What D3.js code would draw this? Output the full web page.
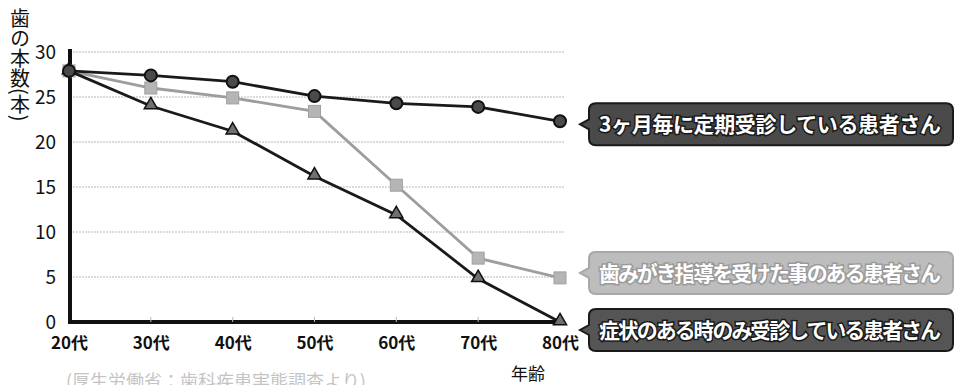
<!DOCTYPE html>
<html>
<head>
<meta charset="utf-8">
<script src="https://cdn.jsdelivr.net/npm/d3@7"></script>
<style>
  body { margin: 0; background: #fff; }
  svg { display: block; font-family: "Noto Sans CJK JP", "Noto Sans", sans-serif; }
</style>
</head>
<body>
<svg id="drawing_region"></svg>
<script>
// data
var ages = ["20代", "30代", "40代", "50代", "60代", "70代", "80代"];
var regular = [27.9, 27.4, 26.7, 25.1, 24.3, 23.9, 22.3];   // 3ヶ月毎に定期受診
var brushing = [27.9, 26.0, 24.9, 23.4, 15.2, 7.1, 4.9];    // 歯みがき指導
var symptom = [27.9, 24.0, 21.2, 16.2, 11.9, 4.8, 0];       // 症状のある時のみ
var yTicks = [0, 5, 10, 15, 20, 25, 30];
var seriesNames = [
    "3ヶ月毎に定期受診している患者さん",
    "歯みがき指導を受けた事のある患者さん",
    "症状のある時のみ受診している患者さん"
];

var width = 958, height = 385;

var svg = d3.select('#drawing_region')
    .attr('width', width)
    .attr('height', height);

var xscale = d3.scalePoint()
    .domain(ages)
    .range([69, 560]);

var yscale = d3.scaleLinear()
    .domain([0, 30])
    .range([322, 52]);

// grid lines
svg.append('g')
    .selectAll('line')
    .data(yTicks.filter(d => d > 0))
    .join('line')
    .attr('x1', 70)
    .attr('x2', 564)
    .attr('y1', d => yscale(d))
    .attr('y2', d => yscale(d))
    .attr('stroke', '#cfcfcf')
    .attr('stroke-width', 1.5)
    .attr('stroke-dasharray', '2,1');

// y axis
var yaxis = d3.axisLeft(yscale)
    .tickValues(yTicks)
    .tickSize(0)
    .tickPadding(14);

var yg = svg.append('g')
    .attr('transform', 'translate(70,0)')
    .call(yaxis);
yg.select('.domain').remove();
yg.selectAll('text')
    .attr('font-size', 19)
    .attr('fill', '#111')
    .attr('font-family', '"Noto Sans CJK JP", sans-serif');

// x axis
var xaxis = d3.axisBottom(xscale)
    .tickSize(0)
    .tickPadding(15);

var xg = svg.append('g')
    .attr('transform', 'translate(0,322)')
    .call(xaxis);
xg.select('.domain').remove();
xg.selectAll('text')
    .attr('font-size', 17)
    .attr('font-weight', 'bold')
    .attr('fill', '#111')
    .attr('font-family', '"Noto Sans CJK JP", sans-serif');

// axis lines
svg.append('line')
    .attr('x1', 70).attr('x2', 70)
    .attr('y1', 49).attr('y2', 324)
    .attr('stroke', '#111').attr('stroke-width', 4);
svg.append('line')
    .attr('x1', 68).attr('x2', 562)
    .attr('y1', 322).attr('y2', 322)
    .attr('stroke', '#111').attr('stroke-width', 4);

// small tick marks on x axis
svg.append('g')
    .selectAll('line')
    .data(ages.slice(1, 6))
    .join('line')
    .attr('x1', d => xscale(d)).attr('x2', d => xscale(d))
    .attr('y1', 317).attr('y2', 322)
    .attr('stroke', '#bbb').attr('stroke-width', 1);

// lines
var line = d3.line()
    .x((d, i) => xscale(ages[i]))
    .y(d => yscale(d));

var series = [
    { values: brushing, color: '#9d9d9d', marker: 'square' },
    { values: symptom, color: '#1a1a1a', marker: 'triangle' },
    { values: regular, color: '#1a1a1a', marker: 'circle' }
];

series.forEach(s => {
    svg.append('path')
        .datum(s.values)
        .attr('d', line)
        .attr('fill', 'none')
        .attr('stroke', s.color)
        .attr('stroke-width', 2.8);

    var g = svg.append('g');
    if (s.marker === 'circle') {
        g.selectAll('circle')
            .data(s.values)
            .join('circle')
            .attr('cx', (d, i) => xscale(ages[i]))
            .attr('cy', d => yscale(d))
            .attr('r', 6)
            .attr('fill', '#4a4a4a')
            .attr('stroke', '#111')
            .attr('stroke-width', 2);
    } else if (s.marker === 'square') {
        g.selectAll('rect')
            .data(s.values)
            .join('rect')
            .attr('x', (d, i) => xscale(ages[i]) - 6)
            .attr('y', d => yscale(d) - 6)
            .attr('width', 12)
            .attr('height', 12)
            .attr('fill', '#b5b5b5')
            .attr('stroke', '#a0a0a0')
            .attr('stroke-width', 1);
    } else {
        var tri = d3.symbol().type(d3.symbolTriangle).size(75);
        g.selectAll('path')
            .data(s.values)
            .join('path')
            .attr('d', tri)
            .attr('transform', (d, i) => `translate(${xscale(ages[i])},${yscale(d) - 1})`)
            .attr('fill', '#707070')
            .attr('stroke', '#111')
            .attr('stroke-width', 1.5);
    }
});

// callouts
var callouts = [
    { name: seriesNames[0], last: regular[6], dy: 3, fill: '#4a4a4a', stroke: '#1a1a1a', textStroke: '#1a1a1a' },
    { name: seriesNames[1], last: brushing[6], dy: -5, fill: '#bdbdbd', stroke: '#a8a8a8', textStroke: '#9a9a9a' },
    { name: seriesNames[2], last: symptom[6], dy: 8, fill: '#555', stroke: '#1a1a1a', textStroke: '#1a1a1a' }
];

var bx = 589, bw = 364, bh = 42, rr = 7;

callouts.forEach(c => {
    var cy = yscale(c.last) + c.dy;
    var top = cy - bh / 2, bot = cy + bh / 2;
    var p = d3.path();
    p.moveTo(bx + rr, top);
    p.lineTo(bx + bw - rr, top);
    p.quadraticCurveTo(bx + bw, top, bx + bw, top + rr);
    p.lineTo(bx + bw, bot - rr);
    p.quadraticCurveTo(bx + bw, bot, bx + bw - rr, bot);
    p.lineTo(bx + rr, bot);
    p.quadraticCurveTo(bx, bot, bx, bot - rr);
    p.lineTo(bx, cy + 5);
    p.lineTo(bx - 9, cy);
    p.lineTo(bx, cy - 5);
    p.lineTo(bx, top + rr);
    p.quadraticCurveTo(bx, top, bx + rr, top);
    p.closePath();

    svg.append('path')
        .attr('d', p.toString())
        .attr('fill', c.fill)
        .attr('stroke', c.stroke)
        .attr('stroke-width', 2);

    svg.append('text')
        .attr('x', bx + 10)
        .attr('y', cy + 8)
        .attr('font-size', 21)
        .attr('font-weight', 'bold')
        .attr('fill', '#fff')
        .attr('stroke', c.textStroke)
        .attr('stroke-width', 3)
        .attr('paint-order', 'stroke')
        .attr('textLength', 342)
        .text(c.name);
});

// y axis title (vertical)
svg.append('text')
    .attr('x', 20)
    .attr('y', 8)
    .attr('font-size', 20)
    .attr('fill', '#111')
    .style('writing-mode', 'vertical-rl')
    .style('text-orientation', 'mixed')
    .text('歯の本数(本)');

// x axis title
svg.append('text')
    .attr('x', 528)
    .attr('y', 380)
    .attr('text-anchor', 'middle')
    .attr('font-size', 17)
    .attr('fill', '#111')
    .text('年齢');

// source note
svg.append('text')
    .attr('x', 66)
    .attr('y', 388)
    .attr('font-size', 18)
    .attr('fill', '#c4c4c4')
    .text('(厚生労働省：歯科疾患実態調査より)');
</script>
</body>
</html>
